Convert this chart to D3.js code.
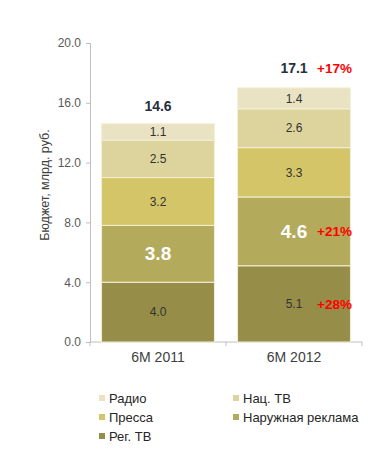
<!DOCTYPE html>
<html><head><meta charset="utf-8">
<script src="https://cdn.jsdelivr.net/npm/d3@7"></script>
<style>body{margin:0;background:#fff;}svg{display:block;font-family:"Liberation Sans",Arial,sans-serif;}</style>
</head><body><svg id="c" width="368" height="458"></svg>
<script>
const categories = ["6M 2011", "6M 2012"];
const seriesNames = ["Рег. ТВ", "Наружная реклама", "Пресса", "Нац. ТВ", "Радио"];
const regTV = [4.0, 5.1];
const outdoor = [3.8, 4.6];
const press = [3.2, 3.3];
const natTV = [2.5, 2.6];
const radio = [1.1, 1.4];
const totals = [14.6, 17.1];
const growthTotal = [null, "+17%"];
const growthOutdoor = [null, "+21%"];
const growthReg = [null, "+28%"];
const yTicks = [0, 4, 8, 12, 16, 20];
const colors = ["#968d48", "#b4aa5c", "#d3c568", "#ddd49d", "#e9e3c3"];
const legendOrder = ["Радио", "Нац. ТВ", "Пресса", "Наружная реклама", "Рег. ТВ"];

const svg = d3.select("#c");
const x = d3.scaleBand().domain(categories).range([90, 362]).paddingInner(0.17).paddingOuter(0.085);
const y = d3.scaleLinear().domain([0, 20]).range([342, 43]);

const seriesVals = [regTV, outdoor, press, natTV, radio];
const rows = categories.map((c, i) => {
  const o = {cat: c};
  seriesNames.forEach((s, k) => o[s] = seriesVals[k][i]);
  return o;
});
const stack = d3.stack().keys(seriesNames)(rows);

// axes
const yAxis = d3.axisLeft(y).tickValues(yTicks).tickFormat(d3.format(".1f")).tickSize(4).tickPadding(5);
const gy = svg.append("g").attr("transform", "translate(90,0)").call(yAxis);
gy.select(".domain").attr("stroke", "#bfbfbf");
gy.selectAll(".tick line").attr("stroke", "#bfbfbf");
gy.selectAll(".tick text").attr("fill", "#595959").style("font-size", "12px").style("font-family", "Liberation Sans, Arial, sans-serif");

const xAxis = d3.axisBottom(x).tickSize(0).tickPadding(10);
const gx = svg.append("g").attr("transform", "translate(0,342)").call(xAxis);
gx.select(".domain").attr("stroke", "#bfbfbf").attr("d", "M90,0H362");
gx.selectAll(".tick text").attr("fill", "#404040").style("font-size", "14px").style("font-family", "Liberation Sans, Arial, sans-serif");
// band boundary ticks
svg.append("g").selectAll("line").data([90, 226, 362]).join("line")
  .attr("x1", d => d).attr("x2", d => d).attr("y1", 342).attr("y2", 346).attr("stroke", "#bfbfbf");

// bars
stack.forEach((layer, k) => {
  svg.append("g").selectAll("rect").data(layer).join("rect")
    .attr("x", d => x(d.data.cat))
    .attr("width", x.bandwidth())
    .attr("y", d => y(d[1]))
    .attr("height", d => y(d[0]) - y(d[1]))
    .attr("fill", colors[k])
    .attr("stroke", "#f4efd6").attr("stroke-width", 1);
});

// segment labels
stack.forEach((layer, k) => {
  const big = k === 1;
  svg.append("g").selectAll("text").data(layer).join("text")
    .attr("x", d => x(d.data.cat) + x.bandwidth() / 2)
    .attr("y", d => (y(d[0]) + y(d[1])) / 2)
    .attr("dy", "0.35em")
    .attr("text-anchor", "middle")
    .attr("fill", big ? "#ffffff" : "#333333")
    .style("font-size", big ? "19px" : "12px")
    .style("font-weight", big ? "bold" : "normal")
    .text(d => d3.format(".1f")(d[1] - d[0]));
});

// totals
svg.append("g").selectAll("text").data(categories).join("text")
  .attr("x", c => x(c) + x.bandwidth() / 2)
  .attr("y", (c, i) => y(totals[i]) - 13)
  .attr("text-anchor", "middle")
  .attr("fill", "#262f3d")
  .style("font-size", "14px").style("font-weight", "bold")
  .text((c, i) => d3.format(".1f")(totals[i]));

// growth labels
const growthX = c => x(c) + x.bandwidth() / 2 + 23;
function growth(arr, yPos) {
  svg.append("g").selectAll("text").data(categories.filter((c, i) => arr[i])).join("text")
    .attr("x", c => growthX(c))
    .attr("y", c => yPos(categories.indexOf(c)))
    .attr("fill", "#ff0000")
    .style("font-size", "13.5px").style("font-weight", "bold")
    .text(c => arr[categories.indexOf(c)]);
}
growth(growthTotal, i => y(totals[i]) - 13);
growth(growthOutdoor, i => (y(stack[1][i][0]) + y(stack[1][i][1])) / 2 + 5);
growth(growthReg, i => (y(stack[0][i][0]) + y(stack[0][i][1])) / 2 + 5);

// y label
svg.append("text")
  .attr("transform", "translate(49,185) rotate(-90)")
  .attr("text-anchor", "middle")
  .attr("fill", "#404040")
  .style("font-size", "12.5px")
  .text("Бюджет, млрд. руб.");

// legend
const legendPos = [[99, 398], [233, 398], [99, 417], [233, 417], [99, 436]];
const lg = svg.append("g").selectAll("g").data(legendOrder).join("g")
  .attr("transform", (d, i) => `translate(${legendPos[i][0]},${legendPos[i][1]})`);
lg.append("rect").attr("x", 0).attr("y", -3).attr("width", 6).attr("height", 6)
  .attr("fill", d => colors[seriesNames.indexOf(d)]);
lg.append("text").attr("x", 10).attr("dy", "0.35em").attr("fill", "#262626")
  .style("font-size", "13px").text(d => d);
</script></body></html>
